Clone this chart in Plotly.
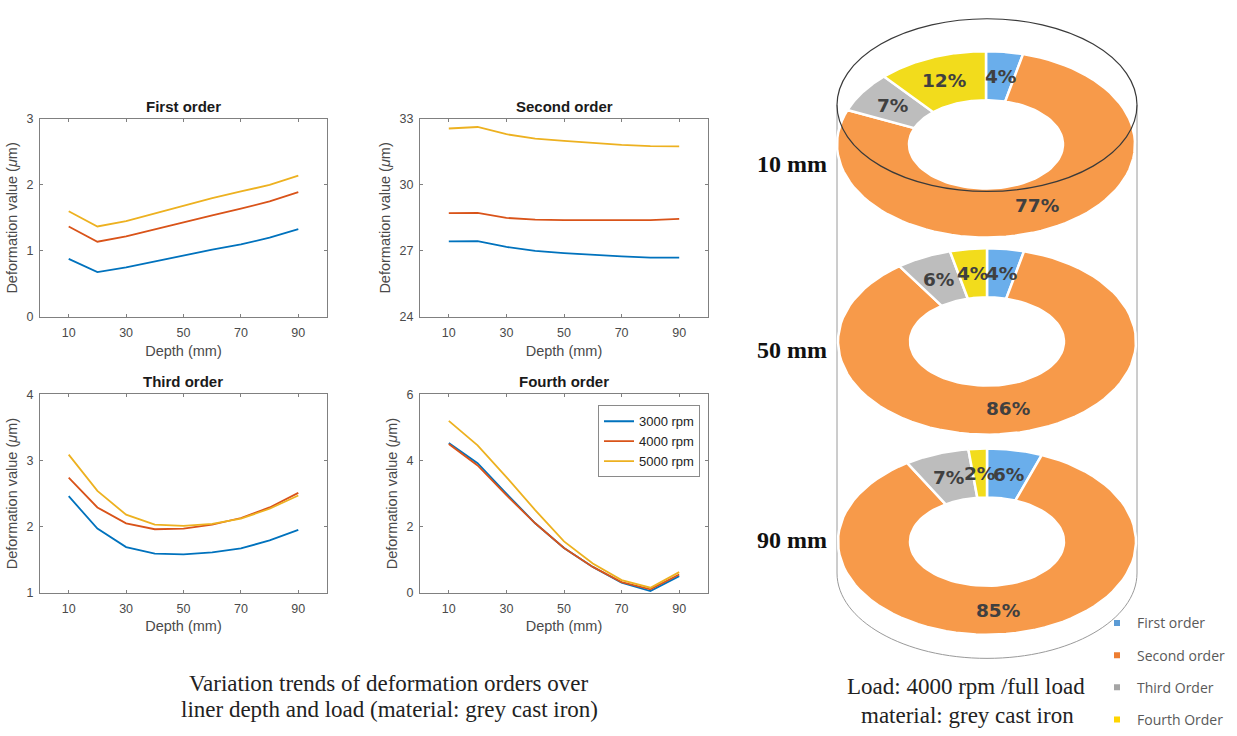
import numpy as np
import plotly.graph_objects as go

# ---------------- data ----------------
depth = [10, 20, 30, 40, 50, 60, 70, 80, 90]
speeds = ["3000 rpm", "4000 rpm", "5000 rpm"]

first_3000 = [0.88, 0.68, 0.75, 0.84, 0.94, 1.02, 1.10, 1.20, 1.33]
first_4000 = [1.37, 1.14, 1.22, 1.33, 1.44, 1.54, 1.64, 1.75, 1.89]
first_5000 = [1.60, 1.37, 1.45, 1.57, 1.69, 1.80, 1.90, 2.00, 2.14]

second_3000 = [27.43, 27.45, 27.18, 27.00, 26.90, 26.82, 26.75, 26.70, 26.70]
second_4000 = [28.72, 28.73, 28.50, 28.42, 28.40, 28.39, 28.39, 28.40, 28.46]
second_5000 = [32.56, 32.63, 32.30, 32.10, 32.00, 31.90, 31.82, 31.76, 31.75]

third_3000 = [2.46, 1.97, 1.69, 1.59, 1.58, 1.61, 1.67, 1.79, 1.95]
third_4000 = [2.74, 2.29, 2.05, 1.96, 1.97, 2.03, 2.13, 2.29, 2.51]
third_5000 = [3.09, 2.54, 2.18, 2.03, 2.01, 2.04, 2.12, 2.27, 2.47]

fourth_3000 = [4.53, 3.92, 3.00, 2.10, 1.35, 0.78, 0.30, 0.05, 0.50]
fourth_4000 = [4.50, 3.85, 2.95, 2.10, 1.35, 0.78, 0.32, 0.10, 0.55]
fourth_5000 = [5.20, 4.46, 3.50, 2.50, 1.55, 0.88, 0.38, 0.15, 0.62]

panel_titles = ["First order", "Second order", "Third order", "Fourth order"]
panel_ticks = [[0, 1, 2, 3], [24, 27, 30, 33], [1, 2, 3, 4], [0, 2, 4, 6]]
depth_ticks = [10, 30, 50, 70, 90]

order_names = ["First order", "Second order", "Third Order", "Fourth Order"]
share_10mm = [4, 77, 7, 12]
share_50mm = [4, 86, 6, 4]
share_90mm = [6, 85, 7, 2]
depth_labels = ["10 mm", "50 mm", "90 mm"]

# ---------------- styling ----------------
W, H = 1237, 736
line_colors = ["#0072BD", "#D95319", "#EDB120"]
slice_colors = ["#6AAEEB", "#F79A4A", "#BDBDBD", "#F2DC1C"]
legend_colors = ["#5B9BD5", "#ED7D31", "#A5A5A5", "#FFD500"]
SANS = "Liberation Sans, Arial, sans-serif"
SERIF = "Liberation Serif, Times New Roman, serif"


def px_x(v):
    return v / W


def px_y(v):
    return 1 - v / H


# panel boxes in pixels: (left, right, top, bottom)
boxes = [(40, 327, 114, 316), (420, 708, 114, 316),
         (40, 327, 395, 597), (420, 708, 395, 597)]

series = [
    [first_3000, first_4000, first_5000],
    [second_3000, second_4000, second_5000],
    [third_3000, third_4000, third_5000],
    [fourth_3000, fourth_4000, fourth_5000],
]

fig = go.Figure()
layout = {}
annotations = []

for i, (box, data, ticks, title) in enumerate(zip(boxes, series, panel_ticks, panel_titles)):
    n = i + 1
    xa = "x" if n == 1 else f"x{n}"
    ya = "y" if n == 1 else f"y{n}"
    for k, vals in enumerate(data):
        fig.add_trace(go.Scatter(
            x=depth, y=vals, mode="lines", xaxis=xa, yaxis=ya,
            line=dict(color=line_colors[k], width=1.8),
            name=speeds[k], showlegend=(n == 4), legend="legend",
        ))
    l, r, t, b = box
    axis_common = dict(
        showline=True, linecolor="#808080", linewidth=1, mirror="ticks",
        ticks="inside", ticklen=3, tickcolor="#808080",
        showgrid=False, zeroline=False,
        tickfont=dict(family=SANS, size=12.5, color="#4a4a4a"),
    )
    layout[f"xaxis{n if n > 1 else ''}"] = dict(
        domain=[px_x(l), px_x(r)], anchor=ya, range=[0, 100],
        tickvals=depth_ticks, ticklabelstandoff=4,
        title=dict(text="Depth (mm)", standoff=6,
                   font=dict(family=SANS, size=14.5, color="#4a4a4a")),
        **axis_common,
    )
    layout[f"yaxis{n if n > 1 else ''}"] = dict(
        domain=[px_y(b), px_y(t)], anchor=xa, range=[ticks[0], ticks[-1]],
        tickvals=ticks, ticklabelstandoff=3,
        title=dict(text="Deformation value (<i>μ</i>m)", standoff=5,
                   font=dict(family=SANS, size=14.5, color="#4a4a4a")),
        **axis_common,
    )
    annotations.append(dict(
        text=f"<b>{title}</b>", xref="paper", yref="paper",
        x=px_x((l + r) / 2), y=px_y(t - 13), xanchor="center", yanchor="middle",
        showarrow=False, font=dict(family=SANS, size=15, color="#1a1a1a"),
    ))

# ---------------- donut panel (pixel-scaled axes) ----------------
layout["xaxis5"] = dict(domain=[px_x(740), 1], range=[740, W], visible=False,
                        fixedrange=True, anchor="y5")
layout["yaxis5"] = dict(domain=[0, 1], range=[H, 0], visible=False,
                        fixedrange=True, anchor="x5")

ring_centers = [(986, 140), (987, 341), (987, 545)]
label_rows = [160, 350, 543]
RX_OUT, RY_OUT = 149, 95
RX_IN, RY_IN = 77, 45


def ring_point(cx, cy, rx, ry, theta):
    # theta: clockwise angle measured from 12 o'clock
    return cx + rx * np.sin(theta), cy - ry * np.cos(theta)


for d, (shares, (cx, cy)) in enumerate(zip([share_10mm, share_50mm, share_90mm], ring_centers)):
    total = float(sum(shares))
    start = 0.0
    for k, v in enumerate(shares):
        a0 = 2 * np.pi * start / total
        a1 = 2 * np.pi * (start + v) / total
        t = np.linspace(a0, a1, 80)
        ox, oy = ring_point(cx, cy, RX_OUT, RY_OUT, t)
        ix, iy = ring_point(cx, cy, RX_IN, RY_IN, t[::-1])
        fig.add_trace(go.Scatter(
            x=np.concatenate([ox, ix, ox[:1]]), y=np.concatenate([oy, iy, oy[:1]]),
            xaxis="x5", yaxis="y5", mode="lines", fill="toself",
            fillcolor=slice_colors[k], line=dict(color="white", width=2.5),
            hoverinfo="skip", showlegend=False,
        ))
        mid = (a0 + a1) / 2
        lx, ly = ring_point(cx, cy, (RX_OUT + RX_IN) / 2, (RY_OUT + RY_IN) / 2, mid)
        annotations.append(dict(
            text=f"<b>{v}%</b>", xref="x5", yref="y5", x=lx, y=ly,
            xanchor="center", yanchor="middle", showarrow=False,
            font=dict(family="DejaVu Sans, sans-serif", size=18.5, color="#404040"),
        ))
        start += v
    annotations.append(dict(
        text=f"<b>{depth_labels[d]}</b>", xref="x5", yref="y5", x=829, y=label_rows[d],
        xanchor="right", yanchor="middle", showarrow=False,
        font=dict(family=SERIF, size=24, color="#111111"),
    ))

# legend entries for the order categories
for k, name in enumerate(order_names):
    fig.add_trace(go.Scatter(
        x=[None], y=[None], xaxis="x5", yaxis="y5", mode="markers",
        marker=dict(symbol="square", size=6, color=legend_colors[k]),
        name=name, legend="legend2", legendgroup=name, showlegend=True,
    ))

# cylinder outline
cxl, cxr, cxm = 837, 1137, 987
top_c, bot_c, ry_cyl = 100, 577, 87
kappa = 0.5523
shapes = [
    dict(type="path", xref="x5", yref="y5", layer="below",
         path=(f"M {cxl},{top_c} L {cxl},{bot_c} "
               f"C {cxl},{bot_c + kappa * ry_cyl} {cxm - kappa * 150},{bot_c + ry_cyl} {cxm},{bot_c + ry_cyl} "
               f"C {cxm + kappa * 150},{bot_c + ry_cyl} {cxr},{bot_c + kappa * ry_cyl} {cxr},{bot_c} "
               f"L {cxr},{top_c}"),
         line=dict(color="#9a9a9a", width=1)),
    dict(type="circle", xref="x5", yref="y5", layer="above",
         x0=cxl, x1=cxr, y0=top_c - 88, y1=top_c + 88,
         line=dict(color="#3a3a3a", width=1.2)),
]

# captions, one annotation per line
caption_font = dict(family=SERIF, size=23, color="#222222")
caption_lines = [
    ("Variation trends of deformation orders over", 389, 690),
    ("liner depth and load (material: grey cast iron)", 389, 716),
    ("Load: 4000 rpm /full load", 966, 693),
    ("material: grey cast iron", 967, 722),
]
for text, cx_, cy_ in caption_lines:
    annotations.append(dict(
        text=text, xref="paper", yref="paper", x=px_x(cx_), y=px_y(cy_),
        xanchor="center", yanchor="middle", showarrow=False, font=caption_font,
    ))

fig.update_layout(
    width=W, height=H, margin=dict(l=0, r=0, t=0, b=0),
    paper_bgcolor="white", plot_bgcolor="white",
    annotations=annotations, shapes=shapes,
    legend=dict(x=px_x(598), y=px_y(406), xanchor="left", yanchor="top",
                bgcolor="white", bordercolor="#8a8a8a", borderwidth=1,
                font=dict(family=SANS, size=13, color="#222222"),
                itemwidth=30, tracegroupgap=0),
    legend2=dict(x=px_x(1097), y=px_y(612), xanchor="left", yanchor="top",
                 bgcolor="rgba(0,0,0,0)", borderwidth=0,
                 font=dict(family="Open Sans, sans-serif", size=14, color="#595959"),
                 itemwidth=30, tracegroupgap=11),
    **layout,
)

fig.write_html("out.html")
